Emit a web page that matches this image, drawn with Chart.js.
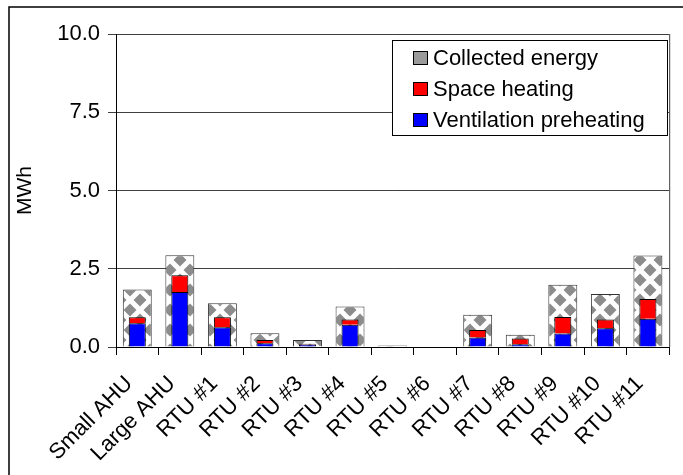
<!DOCTYPE html>
<html>
<head>
<meta charset="utf-8">
<script src="https://cdn.jsdelivr.net/npm/chart.js@4"></script>
<style>
  html, body { margin: 0; padding: 0; background: #fff; }
  #wrap { width: 683px; height: 475px; }
</style>
</head>
<body>
<div id="wrap"><canvas id="myChart" width="683" height="475"></canvas></div>
<script>
/* Energy chart */

const labels = ['Small AHU', 'Large AHU', 'RTU #1', 'RTU #2', 'RTU #3', 'RTU #4', 'RTU #5',
  'RTU #6', 'RTU #7', 'RTU #8', 'RTU #9', 'RTU #10', 'RTU #11'];
const collected = [1.84, 2.93, 1.40, 0.44, 0.22, 1.29, 0.05, 0, 1.03, 0.39, 1.99, 1.69, 2.92];
const spaceHeating = [0.19, 0.53, 0.32, 0.10, 0.02, 0.17, 0, 0, 0.24, 0.18, 0.53, 0.28, 0.63];
const ventilation = [0.76, 1.76, 0.63, 0.12, 0.08, 0.71, 0, 0, 0.30, 0.09, 0.43, 0.60, 0.90];
const yTicks = [0, 2.5, 5, 7.5, 10];

const FONT = 'Liberation Sans, Arial, sans-serif';

// checker pattern for the collected energy bars
function makePattern() {
  const w = 20, h = 20;
  const c = document.createElement('canvas');
  c.width = w; c.height = h;
  const g = c.getContext('2d');
  g.fillStyle = '#fff';
  g.fillRect(0, 0, w, h);
  g.fillStyle = '#8c8c8c';
  const diamond = (cx, cy, rx, ry) => {
    g.beginPath();
    g.moveTo(cx, cy - ry); g.lineTo(cx + rx, cy); g.lineTo(cx, cy + ry); g.lineTo(cx - rx, cy);
    g.closePath(); g.fill();
  };
  [[0, 0], [w, 0], [0, h], [w, h], [w / 2, h / 2]].forEach(p => diamond(p[0], p[1], 6.5, 6.5));
  return g.createPattern(c, 'repeat');
}

function init() {
  const pattern = makePattern();
  const ctx = document.getElementById('myChart').getContext('2d');

  const legendItems = [
    { text: 'Collected energy', fill: '#9a9a9a' },
    { text: 'Space heating', fill: '#ff0000' },
    { text: 'Ventilation preheating', fill: '#0000ff' },
  ];

  const framePlugin = {
    id: 'frame',
    afterDraw(chart) {
      const c = chart.ctx, a = chart.chartArea;
      c.save();
      // outer frame
      c.strokeStyle = '#000';
      c.lineWidth = 1.5;
      c.strokeRect(9, 7, 720, 520);
      // right border of plot area
      c.lineWidth = 1;
      c.strokeStyle = '#404040';
      c.beginPath();
      c.moveTo(a.right + 0.5, a.top);
      c.lineTo(a.right + 0.5, a.bottom);
      c.stroke();
      // legend box
      const bx = 392, by = 40, bw = 275, bh = 95;
      c.fillStyle = '#fff';
      c.fillRect(bx, by, bw, bh);
      c.strokeStyle = '#000';
      c.strokeRect(bx + 0.5, by + 0.5, bw, bh);
      c.font = '22px ' + FONT;
      c.textBaseline = 'middle';
      legendItems.forEach((it, i) => {
        const cy = by + 18 + i * 31;
        c.fillStyle = it.fill;
        c.fillRect(413, cy - 7, 15, 14);
        c.strokeStyle = '#000';
        c.strokeRect(413.5, cy - 6.5, 14, 13);
        c.fillStyle = '#000';
        c.fillText(it.text, 433, cy + 1);
      });
      c.restore();
    }
  };

  new Chart(ctx, {
    type: 'bar',
    data: {
      labels: labels,
      datasets: [
        {
          label: 'Collected energy',
          data: collected,
          stack: 'total',
          order: 3,
          backgroundColor: pattern,
          borderColor: '#333',
          borderWidth: 1,
          barPercentage: 0.68,
        },
        {
          label: 'Ventilation preheating',
          data: ventilation,
          stack: 'parts',
          order: 1,
          backgroundColor: '#0000ff',
          borderColor: '#000',
          borderWidth: 1,
          barPercentage: 0.4,
        },
        {
          label: 'Space heating',
          data: spaceHeating,
          stack: 'parts',
          order: 2,
          backgroundColor: '#ff0000',
          borderColor: '#000',
          borderWidth: 1,
          barPercentage: 0.4,
        },
      ]
    },
    options: {
      responsive: false,
      animation: false,
      layout: { padding: { top: 34, right: 11, left: 0, bottom: 0 } },
      datasets: { bar: { grouped: false, categoryPercentage: 1 } },
      plugins: { legend: { display: false }, tooltip: { enabled: false } },
      scales: {
        x: {
          stacked: true,
          offset: true,
          grid: { drawOnChartArea: false, drawTicks: true, tickLength: 8, color: '#000', offset: true },
          border: { display: true, color: '#000', width: 1 },
          ticks: {
            autoSkip: false, minRotation: 45, maxRotation: 45,
            color: '#000', font: { family: FONT, size: 22 },
            padding: 16, labelOffset: -8,
          },
          afterFit(scale) { scale.height = 128; },
        },
        y: {
          stacked: true,
          min: 0, max: 10,
          afterBuildTicks(scale) { scale.ticks = yTicks.map(v => ({ value: v })); },
          grid: { color: '#404040', tickLength: 8 },
          border: { display: true, color: '#000', width: 1 },
          ticks: {
            color: '#000', font: { family: FONT, size: 22 }, padding: 8,
            callback: v => Number(v).toFixed(1),
          },
          title: {
            display: true, text: 'MWh', color: '#000',
            font: { family: FONT, size: 21 }, padding: { top: 13, bottom: 0 },
          },
          afterFit(scale) { scale.width = 116; },
        }
      }
    },
    plugins: [framePlugin],
  });
}

document.addEventListener('DOMContentLoaded', init, false);

/* END Energy chart */
</script>
</body>
</html>
